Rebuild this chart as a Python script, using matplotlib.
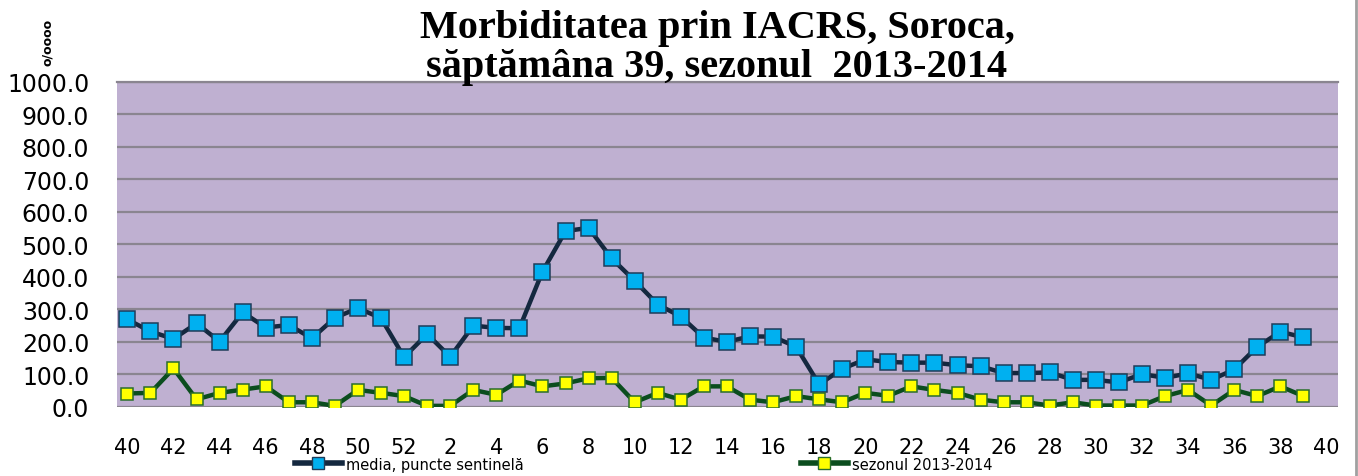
import matplotlib
matplotlib.use("Agg")
import matplotlib.pyplot as plt
from matplotlib.lines import Line2D

# week labels: 40..52 then 1..39, plus an empty slot for the final "40"
weeks = list(range(40, 53)) + list(range(1, 40))

media = [268, 231, 208, 256, 200, 290, 243, 251, 210, 273, 303, 272, 152,
         223, 153, 249, 242, 241, 415, 540, 550, 456, 387, 314, 277, 212,
         199, 216, 215, 184, 68, 116, 145, 137, 135, 135, 127, 124, 103,
         103, 105, 82, 82, 74, 100, 88, 102, 82, 114, 184, 230, 213]

sezon = [40, 42, 117, 22, 42, 52, 62, 13, 13, 2, 51, 42, 32,
         2, 2, 51, 36, 80, 62, 71, 87, 88, 13, 42, 21, 62,
         62, 21, 13, 32, 22, 13, 42, 33, 62, 51, 42, 21, 13,
         13, 3, 13, 3, 3, 3, 32, 51, 3, 51, 32, 62, 32]

tick_labels = [str(w) for w in weeks[::2]] + ["40"]

fig = plt.figure(figsize=(13.58, 4.77), dpi=100)
ax = fig.add_axes([117 / 1358, 1 - 407.5 / 477, (1338 - 117) / 1358, (407.5 - 82.7) / 477])
ax.set_facecolor("#bfb0d1")

x = list(range(len(weeks)))
ax.plot(x, media, color="#14283f", lw=3.2, marker="s", ms=11,
        mfc="#00b0f0", mec="#1f3d5a", mew=1.1, zorder=3)
ax.plot(x, sezon, color="#0b4d1e", lw=3.2, marker="s", ms=8.5,
        mfc="#ffff00", mec="#2a6e2a", mew=1.1, zorder=4)

ax.set_xlim(-0.45, 52.5)
ax.set_ylim(0, 1000)
ax.set_yticks(range(0, 1001, 100))
ax.set_yticklabels([f"{v:.1f}" for v in range(0, 1001, 100)], fontsize=17)
ax.set_xticks(list(range(0, 53, 2)))
ax.set_xticklabels(tick_labels, fontsize=15)
ax.tick_params(axis="y", length=0, pad=20)
ax.tick_params(axis="x", length=0, pad=22)
ax.grid(axis="y", color="#8a8590", lw=1.6)
ax.set_axisbelow(True)
for s in ["left", "right", "bottom"]:
    ax.spines[s].set_visible(False)
ax.spines["top"].set_color("#8a8590")
ax.spines["top"].set_linewidth(1.6)

fig.text(0.528, 0.940, "Morbiditatea prin IACRS, Soroca,", ha="center", va="center",
         fontsize=29, fontweight="bold", family="Liberation Serif")
fig.text(0.528, 0.858, "săptămâna 39, sezonul  2013-2014", ha="center", va="center",
         fontsize=29, fontweight="bold", family="Liberation Serif")
fig.text(0.035, 0.91, "o/oooo", rotation=90, ha="center", va="center",
         fontsize=9, fontweight="bold")

handles = [
    Line2D([], [], color="#14283f", lw=4, marker="s", ms=9, mfc="#00b0f0", mec="#1f3d5a"),
    Line2D([], [], color="#0b4d1e", lw=4, marker="s", ms=9, mfc="#ffff00", mec="#2a6e2a"),
]
fig.legend(handles, ["media, puncte sentinelă", "sezonul 2013-2014"],
           loc="center", bbox_to_anchor=(0.474, 0.025), ncol=2, frameon=False,
           fontsize=10.5, columnspacing=19, handlelength=3.2, handletextpad=0.3)

fig.add_artist(Line2D([1356 / 1358, 1356 / 1358], [0, 1], color="#a0a0a0", lw=2))

plt.savefig("out.png", dpi=100)
